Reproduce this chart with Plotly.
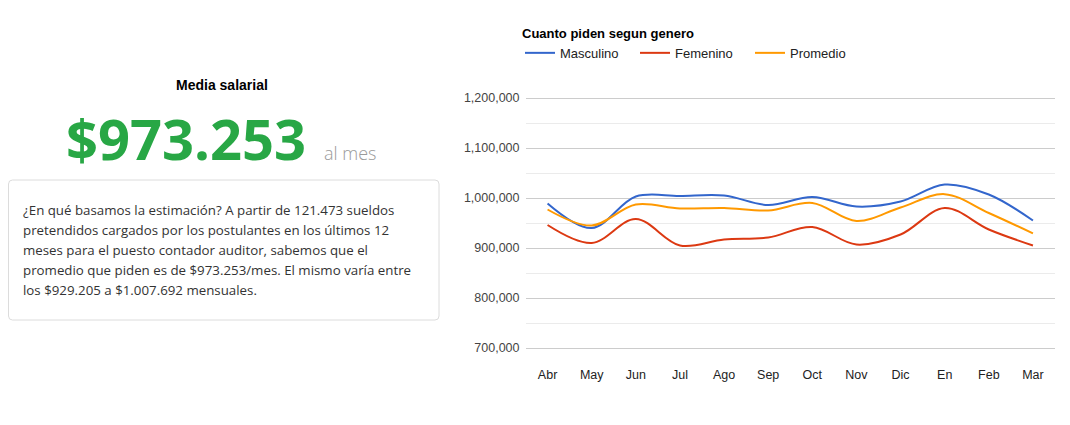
import plotly.graph_objects as go

# ---- data ----
meses = ["Abr", "May", "Jun", "Jul", "Ago", "Sep", "Oct", "Nov", "Dic", "En", "Feb", "Mar"]
masculino = [989000, 940000, 1003000, 1004000, 1005000, 986000, 1002000, 983000, 993000, 1027000, 1007000, 955000]
femenino = [946000, 910000, 958000, 905000, 917000, 921000, 942000, 907000, 927000, 980000, 937000, 905000]
promedio = [977000, 945000, 987000, 979000, 980000, 975000, 990000, 954000, 981000, 1007692, 970000, 929205]
series_names = ["Masculino", "Femenino", "Promedio"]
y_ticks = [700000, 800000, 900000, 1000000, 1100000, 1200000]

media_valor = "$973.253"
titulo_media = "Media salarial"
texto_lineas = [
    "¿En qué basamos la estimación? A partir de 121.473 sueldos",
    "pretendidos cargados por los postulantes en los últimos 12",
    "meses para el puesto contador auditor, sabemos que el",
    "promedio que piden es de $973.253/mes. El mismo varía entre",
    "los $929.205 a $1.007.692 mensuales.",
]

OFF = 8  # page body margin
W, H = 1070 - OFF, 425 - OFF
def px(x):
    return (x - OFF) / W
def py(y):
    return (H - (y - OFF)) / H

colors = ["#3366cc", "#dc3912", "#ff9900"]

fig = go.Figure()
for name, vals, c in zip(series_names, [masculino, femenino, promedio], colors):
    fig.add_trace(go.Scatter(x=meses, y=vals, name=name, mode="lines",
                             line=dict(color=c, width=2, shape="spline", smoothing=1)))

annotations = [
    dict(text="<b>" + titulo_media + "</b>", x=px(222), y=py(85), xref="paper", yref="paper",
         showarrow=False, xanchor="center", yanchor="middle",
         font=dict(family="Arial", size=14, color="#000")),
    dict(text=media_valor, x=px(186), y=py(138), xref="paper", yref="paper",
         showarrow=False, xanchor="center", yanchor="middle",
         font=dict(family="Open Sans", size=56, color="#28a745", weight="bold")),
    dict(text="al mes", x=px(322), y=py(153), xref="paper", yref="paper",
         showarrow=False, xanchor="left", yanchor="middle",
         font=dict(family="Open Sans", size=18, color="#9a9a9a", weight=300)),
]
for i, line in enumerate(texto_lineas):
    annotations.append(dict(text=line, x=px(21), y=py(210 + i * 20), xref="paper", yref="paper",
                            showarrow=False, xanchor="left", yanchor="middle",
                            font=dict(family="Open Sans", size=13.3, color="#333")))

# rounded box
x0, x1, y0, y1, r = 8.5, 439, 180, 320, 4
path = (f"M {px(x0+r)},{py(y0)} L {px(x1-r)},{py(y0)} Q {px(x1)},{py(y0)} {px(x1)},{py(y0+r)} "
        f"L {px(x1)},{py(y1-r)} Q {px(x1)},{py(y1)} {px(x1-r)},{py(y1)} "
        f"L {px(x0+r)},{py(y1)} Q {px(x0)},{py(y1)} {px(x0)},{py(y1-r)} "
        f"L {px(x0)},{py(y0+r)} Q {px(x0)},{py(y0)} {px(x0+r)},{py(y0)} Z")
shapes = [dict(type="path", path=path, xref="paper", yref="paper",
               line=dict(color="#dcdcdc", width=1), fillcolor="rgba(0,0,0,0)")]

# plot area: 1,200,000 at y=98px, 2000 per px
y_top_px, y_bot_px = 88, 360
y_top_val = 1200000 + (98 - y_top_px) * 2000
y_bot_val = 1200000 - (y_bot_px - 98) * 2000
fig.update_layout(
    width=W, height=H,
    margin=dict(l=0, r=0, t=0, b=0, autoexpand=False),
    paper_bgcolor="white", plot_bgcolor="white",
    font=dict(family="Arial", color="#222"),
    showlegend=True,
    legend=dict(orientation="h", x=px(520), y=py(21), xanchor="left", yanchor="top",
                title=dict(text="<b>Cuanto piden segun genero</b>", side="top",
                           font=dict(family="Arial", size=13, color="#000")),
                font=dict(family="Arial", size=13, color="#222"),
                entrywidth=70, entrywidthmode="pixels", bgcolor="rgba(0,0,0,0)"),
    xaxis=dict(domain=[px(525.5), px(1055)], type="category", range=[-0.5, 11.5],
               showgrid=False, showline=False, ticks="", zeroline=False, automargin=False,
               ticklabelstandoff=5,
               tickfont=dict(family="Arial", size=12.5, color="#222")),
    yaxis=dict(domain=[py(y_bot_px), py(y_top_px)],
               range=[y_bot_val, y_top_val],
               tickvals=y_ticks, tickformat=",d", showgrid=True, gridcolor="#cccccc",
               gridwidth=1, zeroline=False, showline=False, ticks="", automargin=False,
               ticklabelstandoff=5,
               minor=dict(tickvals=[650000, 750000, 850000, 950000, 1050000, 1150000],
                          showgrid=True, gridcolor="#ebebeb", gridwidth=1),
               tickfont=dict(family="Arial", size=12.5, color="#444")),
    annotations=annotations,
    shapes=shapes,
)

fig.write_html("out.html")
